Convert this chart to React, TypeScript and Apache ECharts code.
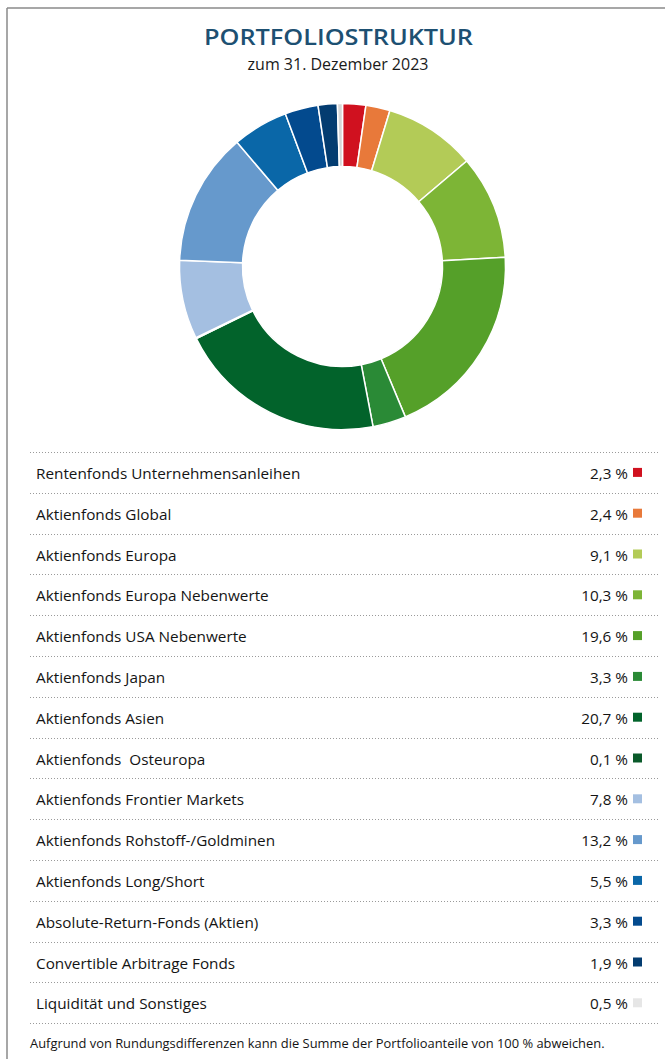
import React, { useEffect, useRef } from "react";
import * as echarts from "echarts";

const title = "PORTFOLIOSTRUKTUR";
const subtitle = "zum 31. Dezember 2023";
const footnote = "Aufgrund von Rundungsdifferenzen kann die Summe der Portfolioanteile von 100 % abweichen.";

const categories = [
  "Rentenfonds Unternehmensanleihen",
  "Aktienfonds Global",
  "Aktienfonds Europa",
  "Aktienfonds Europa Nebenwerte",
  "Aktienfonds USA Nebenwerte",
  "Aktienfonds Japan",
  "Aktienfonds Asien",
  "Aktienfonds  Osteuropa",
  "Aktienfonds Frontier Markets",
  "Aktienfonds Rohstoff-/Goldminen",
  "Aktienfonds Long/Short",
  "Absolute-Return-Fonds (Aktien)",
  "Convertible Arbitrage Fonds",
  "Liquidität und Sonstiges",
];
const values = [2.3, 2.4, 9.1, 10.3, 19.6, 3.3, 20.7, 0.1, 7.8, 13.2, 5.5, 3.3, 1.9, 0.5];
const colors = [
  "#d0111f", "#e8793a", "#b3cb57", "#7db536", "#55a029", "#2a8a36", "#02632b",
  "#0a5a2a", "#a4bfe1", "#6699cc", "#0a67a8", "#034a8e", "#033c70", "#d6d6d6",
];
const legendColors = [
  "#d0111f", "#e8793a", "#b3cb57", "#7db536", "#55a029", "#2a8a36", "#02632b",
  "#0a5a2a", "#a4bfe1", "#6699cc", "#0a67a8", "#034a8e", "#033c70", "#e6e6e6",
];

const fmt = (v: number) => v.toFixed(1).replace(".", ",") + " %";

export default function App() {
  const ref = useRef<HTMLDivElement>(null);
  useEffect(() => {
    document.body.style.margin = "0";
    const chart = echarts.init(ref.current!, null, { renderer: "svg" });
    const font = "'Open Sans', sans-serif";
    const rowTop = 452;
    const rowH = 40.8;
    const graphics: any[] = [];
    // frame
    graphics.push({ type: "line", shape: { x1: 7, y1: 8, x2: 665, y2: 8 }, style: { stroke: "#8a8a8a", lineWidth: 1.5 } });
    graphics.push({ type: "line", shape: { x1: 7, y1: 8, x2: 7, y2: 1059 }, style: { stroke: "#8a8a8a", lineWidth: 1.5 } });
    graphics.push({
      type: "text", x: 338.5, y: 37, scaleX: 1.15,
      style: { text: title, fontFamily: font, fontSize: 22, fontWeight: 600, fill: "#1d5072", align: "center", verticalAlign: "middle" },
    });
    graphics.push({
      type: "text", x: 338, y: 64,
      style: { text: subtitle, fontFamily: font, fontSize: 16, fill: "#1a1a1a", align: "center", verticalAlign: "middle" },
    });
    for (let i = 0; i <= categories.length; i++) {
      const y = Math.round(rowTop + i * rowH) + 0.5;
      graphics.push({ type: "line", shape: { x1: 30, y1: y, x2: 660, y2: y }, style: { stroke: "#9a9a9a", lineWidth: 1, lineDash: [1, 2] } });
    }
    categories.forEach((c, i) => {
      const cy = rowTop + i * rowH + rowH / 2 + 0.5;
      graphics.push({ type: "text", x: 36, y: cy, style: { text: c, fontFamily: font, fontSize: 15.3, fill: "#141414", verticalAlign: "middle" } });
      graphics.push({ type: "text", x: 628, y: cy, style: { text: fmt(values[i]), fontFamily: font, fontSize: 15.3, fill: "#141414", align: "right", verticalAlign: "middle" } });
      graphics.push({ type: "rect", shape: { x: 633, y: cy - 5, width: 9, height: 9 }, style: { fill: legendColors[i] } });
    });
    graphics.push({ type: "text", x: 30, y: 1043, style: { text: footnote, fontFamily: font, fontSize: 12.9, fill: "#141414", verticalAlign: "middle" } });

    chart.setOption({
      animation: false,
      backgroundColor: "#fff",
      graphic: graphics,
      series: [
        {
          type: "pie",
          center: [342.5, 266.5],
          radius: [100, 163],
          startAngle: 90,
          clockwise: true,
          minAngle: 0,
          label: { show: false },
          labelLine: { show: false },
          silent: true,
          itemStyle: { borderColor: "#fff", borderWidth: 1.5 },
          data: categories.map((c, i) => ({ name: c, value: values[i], itemStyle: { color: colors[i] } })),
        },
      ],
    });
    return () => chart.dispose();
  }, []);
  return <div ref={ref} style={{ width: 665, height: 1059 }} />;
}
